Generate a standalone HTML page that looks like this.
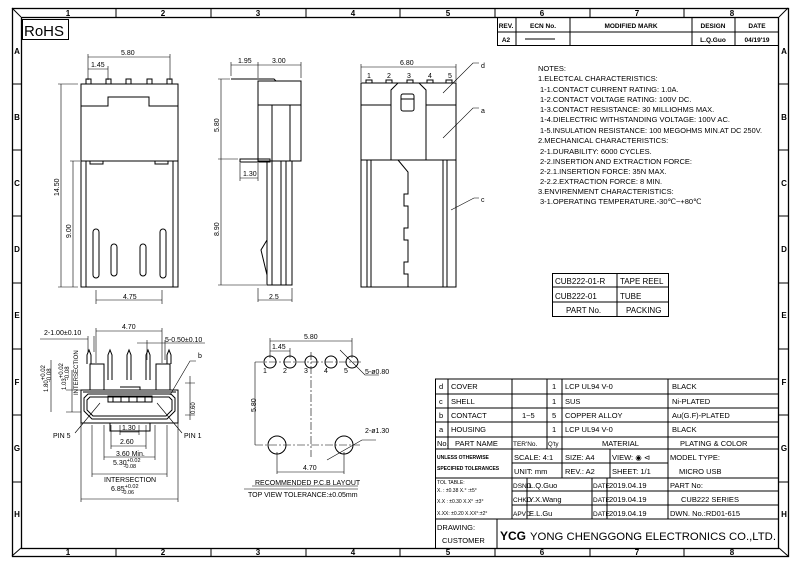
<!DOCTYPE html>
<html><head><meta charset="utf-8"><style>
html,body{margin:0;padding:0;background:#fff;width:800px;height:565px;overflow:hidden}
svg{display:block}
text{font-family:"Liberation Sans",sans-serif;fill:#000}
</style></head><body>
<svg width="800" height="565" viewBox="0 0 800 565" xmlns="http://www.w3.org/2000/svg">
<g fill="none" stroke="#000" stroke-width="1">
<rect x="12.5" y="8.5" width="776" height="548" stroke-width="1.3"/>
<rect x="21.5" y="17.5" width="757" height="531" stroke-width="1.3"/>
<line x1="12" y1="8" x2="21" y2="17"/><line x1="788" y1="8" x2="779" y2="17"/>
<line x1="12" y1="556" x2="21" y2="548"/><line x1="788" y1="556" x2="779" y2="548"/>
<path d="M116 8v9M211 8v9M306 8v9M400 8v9M495 8v9M590 8v9M684 8v9"/>
<path d="M116 548v8M211 548v8M306 548v8M400 548v8M495 548v8M590 548v8M684 548v8"/>
<path d="M12 84h9M12 150h9M12 216h9M12 283h9M12 349h9M12 415h9M12 482h9"/>
<path d="M779 84h9M779 150h9M779 216h9M779 283h9M779 349h9M779 415h9M779 482h9"/>
<rect x="22.5" y="19.5" width="46" height="20"/>
</g>
<g font-size="8" font-weight="bold" text-anchor="middle">
<text x="68" y="16">1</text><text x="163" y="16">2</text><text x="258" y="16">3</text><text x="353" y="16">4</text><text x="448" y="16">5</text><text x="542" y="16">6</text><text x="637" y="16">7</text><text x="732" y="16">8</text>
<text x="68" y="555">1</text><text x="163" y="555">2</text><text x="258" y="555">3</text><text x="353" y="555">4</text><text x="448" y="555">5</text><text x="542" y="555">6</text><text x="637" y="555">7</text><text x="732" y="555">8</text>
<text x="17" y="54">A</text><text x="17" y="120">B</text><text x="17" y="186">C</text><text x="17" y="252">D</text><text x="17" y="318">E</text><text x="17" y="385">F</text><text x="17" y="451">G</text><text x="17" y="517">H</text>
<text x="784" y="54">A</text><text x="784" y="120">B</text><text x="784" y="186">C</text><text x="784" y="252">D</text><text x="784" y="318">E</text><text x="784" y="385">F</text><text x="784" y="451">G</text><text x="784" y="517">H</text>
</g>
<text x="24" y="36" font-size="15">RoHS</text>

<g fill="none" stroke="#000">
<rect x="497.5" y="17.5" width="281" height="28"/>
<path d="M497 32h281M516 17v28M570 17v28M692 17v28M735 17v28"/>
<path d="M525 39h30"/>
</g>
<g font-size="6.5" font-weight="bold" text-anchor="middle">
<text x="506" y="28">REV.</text><text x="543" y="28">ECN No.</text><text x="631" y="28">MODIFIED MARK</text><text x="713" y="28">DESIGN</text><text x="757" y="28">DATE</text>
<text x="506" y="42">A2</text><text x="713" y="42">L.Q.Guo</text><text x="757" y="42">04/19'19</text>
</g>

<g font-size="7.5">
<text x="538" y="71">NOTES:</text>
<text x="538" y="81">1.ELECTCAL CHARACTERISTICS:</text>
<text x="540" y="92">1-1.CONTACT CURRENT RATING:  1.0A.</text>
<text x="540" y="102">1-2.CONTACT VOLTAGE RATING: 100V DC.</text>
<text x="540" y="112">1-3.CONTACT RESISTANCE: 30 MILLIOHMS MAX.</text>
<text x="540" y="122" textLength="190" lengthAdjust="spacingAndGlyphs">1-4.DIELECTRIC WITHSTANDING VOLTAGE: 100V AC.</text>
<text x="540" y="133" textLength="222" lengthAdjust="spacingAndGlyphs">1-5.INSULATION RESISTANCE: 100 MEGOHMS MIN.AT DC 250V.</text>
<text x="538" y="143">2.MECHANICAL CHARACTERISTICS:</text>
<text x="540" y="154">2-1.DURABILITY: 6000 CYCLES.</text>
<text x="540" y="164">2-2.INSERTION AND EXTRACTION FORCE:</text>
<text x="540" y="174">2-2.1.INSERTION FORCE: 35N MAX.</text>
<text x="540" y="184">2-2.2.EXTRACTION FORCE: 8 MIN.</text>
<text x="538" y="194">3.ENVIRENMENT CHARACTERISTICS:</text>
<text x="540" y="204">3-1.OPERATING TEMPERATURE.-30℃~+80℃</text>
</g>

<g fill="none" stroke="#000"><rect x="552.5" y="273.5" width="116" height="43"/><path d="M552 287h116M552 302h116M617 273v43"/></g>
<g font-size="8"><text x="555" y="284">CUB222-01-R</text><text x="620" y="284">TAPE REEL</text><text x="555" y="299">CUB222-01</text><text x="620" y="299">TUBE</text><text x="566" y="313">PART No.</text><text x="626" y="313">PACKING</text></g>

<g fill="none" stroke="#000">
<path d="M435.5 379V548M435 379h344M435 394h344M435 408h344M435 422h344M435 437h344M435 449h344M512 463h156M435 478h344M512 491h267M512 505h267M435 519h344"/>
<path d="M448 379v70M512 379v140M547 379v70M562 379v99M668 379v140M610 449v29M527 478v41M592 478v41M607 478v41M497 519v29"/>
</g>
<g font-size="7.5">
<text x="439" y="389">d</text><text x="451" y="389">COVER</text><text x="552" y="389">1</text><text x="565" y="389">LCP UL94 V-0</text><text x="672" y="389">BLACK</text>
<text x="439" y="404">c</text><text x="451" y="404">SHELL</text><text x="552" y="404">1</text><text x="565" y="404">SUS</text><text x="672" y="404">Ni-PLATED</text>
<text x="439" y="418">b</text><text x="451" y="418">CONTACT</text><text x="522" y="418">1~5</text><text x="552" y="418">5</text><text x="565" y="418">COPPER ALLOY</text><text x="672" y="418">Au(G.F)-PLATED</text>
<text x="439" y="432">a</text><text x="451" y="432">HOUSING</text><text x="552" y="432">1</text><text x="565" y="432">LCP UL94 V-0</text><text x="672" y="432">BLACK</text>
<text x="437" y="446">No.</text><text x="455" y="446">PART NAME</text><text x="513" y="446" font-size="6.5">TER'No.</text><text x="548" y="446" font-size="6">Q'ty</text><text x="602" y="446">MATERIAL</text><text x="680" y="446">PLATING &amp; COLOR</text>
<text x="437" y="459" font-size="5" font-weight="bold">UNLESS OTHERWISE</text><text x="437" y="470" font-size="5" font-weight="bold">SPECIFIED TOLERANCES</text>
<text x="514" y="460">SCALE: 4:1</text><text x="565" y="460">SIZE:  A4</text><text x="612" y="460">VIEW: ◉ ⊲</text><text x="670" y="460">MODEL TYPE:</text>
<text x="514" y="474">UNIT:  mm</text><text x="565" y="474">REV.:  A2</text><text x="612" y="474">SHEET:  1/1</text><text x="679" y="474">MICRO USB</text>
<text x="437" y="484" font-size="5">TOL TABLE:</text><text x="437" y="492" font-size="5">X.  : ±0.38   X.° :±5°</text><text x="437" y="503" font-size="5">X.X : ±0.30   X.X° :±3°</text><text x="437" y="515" font-size="5">X.XX: ±0.20   X.XX°:±2°</text>
<text x="513" y="488" font-size="6.5">DSND</text><text x="529" y="488">L.Q.Guo</text><text x="593" y="488" font-size="6.5">DATE</text><text x="609" y="488" font-size="7.5">2019.04.19</text><text x="670" y="488">PART No:</text>
<text x="513" y="502" font-size="6.5">CHKD</text><text x="529" y="502">Y.X.Wang</text><text x="593" y="502" font-size="6.5">DATE</text><text x="609" y="502" font-size="7.5">2019.04.19</text><text x="681" y="502">CUB222 SERIES</text>
<text x="513" y="516" font-size="6.5">APVD</text><text x="529" y="516">E.L.Gu</text><text x="593" y="516" font-size="6.5">DATE</text><text x="609" y="516" font-size="7.5">2019.04.19</text><text x="670" y="516">DWN. No.:RD01-615</text>
<text x="437" y="530">DRAWING:</text><text x="442" y="543">CUSTOMER</text>
<text x="500" y="540" font-size="12" font-weight="bold">YCG</text>
<text x="530" y="540" font-size="11" textLength="246" lengthAdjust="spacingAndGlyphs">YONG CHENGGONG ELECTRONICS CO.,LTD.</text>
</g>

<g fill="none" stroke="#000">
<path d="M81 84h97v203H81z"/>
<path d="M81 106h27v-9h41v9h29M81 161h97M86 161v126M173 161v126M90 161v3h13v-3M155 161v3h13v-3"/>
<rect x="86" y="79" width="5" height="5"/><rect x="106" y="79" width="5" height="5"/><rect x="126" y="79" width="5" height="5"/><rect x="147" y="79" width="5" height="5"/><rect x="167" y="79" width="5" height="5"/>
<rect x="93" y="229" width="6" height="49" rx="3"/><rect x="111" y="244" width="6" height="32" rx="3"/><rect x="140" y="244" width="6" height="32" rx="3"/><rect x="160" y="229" width="6" height="49" rx="3"/>
<g stroke-width="0.6"><path d="M88 57h82M88 54v26M170 54v26M88 69h20M108 66v14M61 84v203M58 84h20M58 287h20M73 161v126M70 161h10M96 290v14M162 290v14M96 300h66"/></g>
</g>
<g font-size="7"><text x="121" y="55">5.80</text><text x="91" y="67">1.45</text><text x="123" y="299">4.75</text>
<text transform="translate(59 196) rotate(-90)">14.50</text><text transform="translate(71 238) rotate(-90)">9.00</text></g>

<g fill="none" stroke="#000">
<path d="M231 79h43l2 2"/>
<path d="M258 81h43v80h-43zM258 105h43M272 105v56M290 105v56"/>
<path d="M267 161h25v124h-25zM272 161v124M281 161v124M286 161v124M240 159h30v3h-30z"/>
<path d="M267 240l-6 10 6 25"/>
<g stroke-width="0.6"><path d="M231 65h70M231 62v14M258 62v16M301 62v16M221 79v206M218 79h12M218 159h20M218 285h48M240 178h18M240 163v18M258 163v18M258 288v14M292 288v14M258 300h34"/></g>
</g>
<g font-size="7"><text x="238" y="63">1.95</text><text x="272" y="63">3.00</text><text x="243" y="176">1.30</text><text x="269" y="299">2.5</text>
<text transform="translate(219 132) rotate(-90)">5.80</text><text transform="translate(219 236) rotate(-90)">8.90</text></g>

<g fill="none" stroke="#000">
<path d="M361 83h95v204h-95zM361 105h30M426 105h30M361 160h95"/>
<path d="M391 160V90l7-7h21l7 7v70"/><rect x="401" y="94" width="13" height="17" rx="2"/><path d="M401 99h13"/>
<path d="M367 160v127M371 160v127M443 160v127M447 160v127"/>
<path d="M398 160l10 12v22h-4v12h4v22h-4v12h4v22h-4v12h4v13"/>
<rect x="366" y="80" width="6" height="3"/><rect x="386" y="80" width="6" height="3"/><rect x="407" y="80" width="6" height="3"/><rect x="427" y="80" width="6" height="3"/><rect x="446" y="80" width="6" height="3"/>
<g stroke-width="0.6"><path d="M361 67h95M361 64v18M456 64v18M443 93l30-30h6M443 138l30-30h6M451 210l23-12h5"/></g>
</g>
<g font-size="7"><text x="400" y="65">6.80</text><text x="367" y="78">1</text><text x="387" y="78">2</text><text x="407" y="78">3</text><text x="428" y="78">4</text><text x="448" y="78">5</text><text x="481" y="68">d</text><text x="481" y="113">a</text><text x="481" y="202">c</text></g>

<g fill="none" stroke="#000">
<path d="M81 390h97v33H81zM83 392h93"/>
<path d="M84 398l4-4h83l4 4v13l-8 8H92l-8-8z"/><path d="M87 400l3-3h79l3 3v10l-6 6H93l-6-6z"/>
<rect x="108" y="396" width="44" height="6"/><path d="M113 396v6M121 396v6M129 396v6M137 396v6M145 396v6M120 387h20v3h-20"/>
<path d="M90 390v-26h14v26M156 390v-26h14v26"/>
<path d="M87 364v-9l2-5 2 5v9M108 380v-25l2-5 2 5v25M127 380v-25l2-5 2 5v25M146 380v-25l2-5 2 5v25M167 364v-9l2-5 2 5v9"/>
<path d="M110 423v8h40v-8"/>
<g stroke-width="0.6"><path d="M96 331h66M96 328v35M162 328v35M137 343h68M147 340v20M165 340v20M88 339h-48M88 336v16M94 336v16M66 390h15M66 412h15M51 360v52M72 370v42M185 383h10M185 415h10M190 376v44M120 432h19M111 446h35M104 457h51M92 474h75M81 499h97M120 425v10M139 425v10M111 425v24M146 425v24M104 425v35M155 425v35M92 425v52M167 425v52M81 423v79M178 423v79M75 433l25-30M182 433l-25-30M170 395l20-34h6"/></g>
</g>
<g font-size="7"><text x="122" y="329">4.70</text><text x="44" y="335">2-1.00±0.10</text><text x="165" y="342">5-0.50±0.10</text><text x="198" y="358">b</text>
<text x="122" y="430">1.30</text><text x="120" y="444">2.60</text><text x="116" y="456">3.60 Min.</text><text x="113" y="465">5.30<tspan font-size="5.5" dy="-3">+0.02</tspan><tspan font-size="5.5" dx="-17" dy="6">-0.08</tspan></text>
<text x="104" y="482">INTERSECTION</text><text x="111" y="491">6.85<tspan font-size="5.5" dy="-3">+0.02</tspan><tspan font-size="5.5" dx="-17" dy="6">-0.06</tspan></text>
<text x="53" y="438">PIN 5</text><text x="184" y="438">PIN 1</text>
<text transform="translate(48 392) rotate(-90)" font-size="6">1.80<tspan dy="-3">+0.02</tspan><tspan dx="-17" dy="6">-0.08</tspan></text>
<text transform="translate(66 390) rotate(-90)" font-size="6">1.03<tspan dy="-3">+0.02</tspan><tspan dx="-17" dy="6">-0.08</tspan></text>
<text transform="translate(78 395) rotate(-90)" font-size="6">INTERSECTION</text>
<text transform="translate(195 414) rotate(-90)" font-size="6">0.60</text></g>

<g fill="none" stroke="#000">
<circle cx="270" cy="362" r="6"/><circle cx="290" cy="362" r="6"/><circle cx="311" cy="362" r="6"/><circle cx="331" cy="362" r="6"/><circle cx="352" cy="362" r="6"/>
<circle cx="277" cy="445" r="9"/><circle cx="344" cy="445" r="9"/>
<g stroke-width="0.6"><path d="M255 362h108M255 445h105M311 352v105" stroke-dasharray="8 2 2 2"/>
<path d="M270 341h82M270 338v20M352 338v20M270 351h20M290 348v10M255 362v83M277 452v22M344 452v22M277 472h67M340 350l25 25h14M327 460l35-20h14M252 486h106M244 489h114"/></g>
</g>
<g font-size="7"><text x="304" y="339">5.80</text><text x="272" y="349">1.45</text><text x="303" y="470">4.70</text><text x="365" y="374">5-ø0.80</text><text x="365" y="433">2-ø1.30</text>
<text x="263" y="373">1</text><text x="283" y="373">2</text><text x="304" y="373">3</text><text x="324" y="373">4</text><text x="344" y="373">5</text>
<text transform="translate(256 412) rotate(-90)">5.80</text>
<text x="255" y="485">RECOMMENDED P.C.B LAYOUT</text><text x="248" y="497">TOP VIEW TOLERANCE:±0.05mm</text></g>
</svg>
</body></html>
